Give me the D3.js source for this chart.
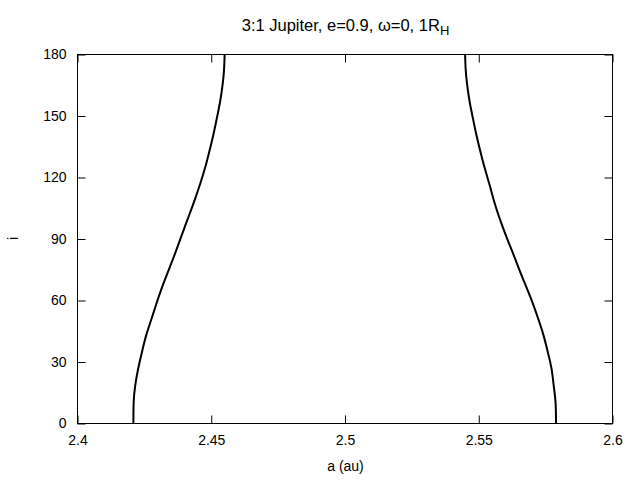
<!DOCTYPE html>
<html lang="en">
<head>
    <meta charset="UTF-8">
    <title>3:1 Jupiter resonance width</title>
    <style>
        body { margin: 0; background: #fff; }
        text { font-family: "Liberation Sans", Arial, sans-serif; }
    </style>
</head>
<body>
    <script src="https://d3js.org/d3.v7.min.js"></script>
    <div id="container"></div>
    <script>
        // inclination (deg) samples, shared by both borders
        var incl   = [0, 10.5, 18.7, 26.8, 34.9, 43.1, 51.2, 59.3, 67.5, 75.6, 83.7, 90.2, 100.8, 109.0, 117.1, 125.2, 133.3, 141.5, 149.6, 157.7, 165.9, 173, 180];
        // inner and outer border of the resonance, semi-major axis in au
        var innerA = [2.4209, 2.4210, 2.4216, 2.4227, 2.4241, 2.4257, 2.4277, 2.4297, 2.4319, 2.4343, 2.4367, 2.4385, 2.4415, 2.4438, 2.4459, 2.4478, 2.4494, 2.4509, 2.4522, 2.4534, 2.4543, 2.4548, 2.4550];
        var outerA = [2.5789, 2.5787, 2.5780, 2.5772, 2.5758, 2.5742, 2.5722, 2.5700, 2.5675, 2.5650, 2.5626, 2.5606, 2.5576, 2.5556, 2.5539, 2.5521, 2.5505, 2.5490, 2.5477, 2.5465, 2.5456, 2.5451, 2.5449];
        var xTicks = [2.4, 2.45, 2.5, 2.55, 2.6];
        var yTicks = [0, 30, 60, 90, 120, 150, 180];

        var containerWidth = 640, containerHeight = 480;
        var margin = {top: 54, bottom: 57, left: 78, right: 27};
        var width = containerWidth - margin.left - margin.right;
        var height = containerHeight - margin.top - margin.bottom;

        var x = d3.scaleLinear().domain([2.4, 2.6]).range([0, width]);
        var y = d3.scaleLinear().domain([0, 180]).range([height, 0]);

        var svg = d3.select('#container').append('svg')
            .attr('width', containerWidth).attr('height', containerHeight);

        var g = svg.append('g').attr('transform', `translate(${margin.left - 0.5}, ${margin.top + 0.5})`);

        // curves first, frame drawn on top
        var line = d3.line()
            .x(d => x(d[0]))
            .y(d => y(d[1]))
            .curve(d3.curveNatural);

        [innerA, outerA].forEach(arr => {
            g.append('path')
                .datum(arr.map((a, k) => [a, incl[k]]))
                .attr('fill', 'none')
                .attr('stroke', '#000')
                .attr('stroke-width', 2)
                .attr('d', line);
        });

        function styleAxis(sel) {
            sel.select('.domain').remove();
            sel.selectAll('line').attr('stroke', '#000');
            sel.selectAll('text').attr('font-size', 14).attr('fill', '#000')
                .style('font-family', '"Liberation Sans", Arial, sans-serif');
        }

        g.append('g').attr('transform', `translate(0, ${height})`)
            .call(d3.axisBottom(x).tickValues(xTicks).tickSize(-8).tickPadding(12).tickFormat(d3.format('')))
            .call(styleAxis);
        g.append('g')
            .call(d3.axisTop(x).tickValues(xTicks).tickSize(-8).tickFormat(''))
            .call(styleAxis);
        g.append('g')
            .call(d3.axisLeft(y).tickValues(yTicks).tickSize(-8).tickPadding(11))
            .call(styleAxis);
        g.append('g').attr('transform', `translate(${width}, 0)`)
            .call(d3.axisRight(y).tickValues(yTicks).tickSize(-8).tickFormat(''))
            .call(styleAxis);

        g.append('rect')
            .attr('width', width).attr('height', height)
            .attr('fill', 'none').attr('stroke', '#000');

        // title with subscript
        var title = svg.append('text')
            .attr('x', margin.left + width / 2).attr('y', 31)
            .attr('text-anchor', 'middle').attr('font-size', 16.5);
        title.append('tspan').text('3:1 Jupiter, e=0.9, ω=0, 1R');
        title.append('tspan').attr('dy', 4).attr('font-size', 13).text('H');

        svg.append('text')
            .attr('x', margin.left + width / 2).attr('y', 471)
            .attr('text-anchor', 'middle').attr('font-size', 14)
            .text('a (au)');

        svg.append('text')
            .attr('transform', `translate(18, ${margin.top + height / 2}) rotate(-90)`)
            .attr('text-anchor', 'middle').attr('font-size', 14)
            .text('i');
    </script>
</body>
</html>
